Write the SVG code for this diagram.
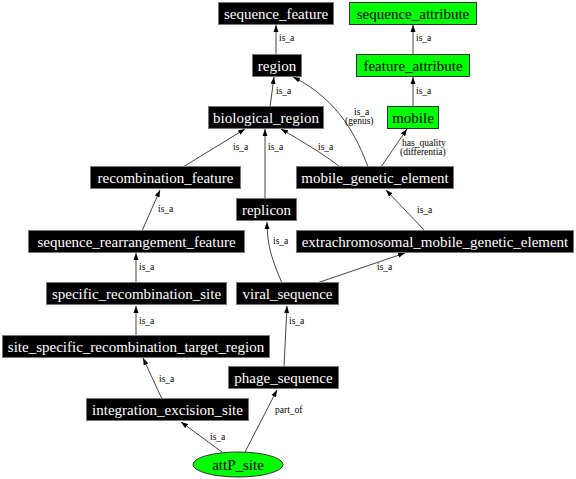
<svg xmlns="http://www.w3.org/2000/svg" width="576" height="479" viewBox="0 0 576 479">
<style>
  .blk rect { fill: #000; stroke: #777; stroke-width: 1; }
  .grn rect, .grn ellipse { fill: #00ff00; stroke: #333; stroke-width: 1; }
  .blk text { fill: #fff; font-family: "Liberation Serif", "Times New Roman", serif; font-size: 15px; text-anchor: middle; }
  .grn text { fill: #000; font-family: "Liberation Serif", "Times New Roman", serif; font-size: 15px; text-anchor: middle; }
  .edges path { fill: none; stroke: #444; stroke-width: 1; marker-end: url(#ah); }
  .edges text { font-family: "Liberation Serif", "Times New Roman", serif; font-size: 9.5px; fill: #000; }
</style>
<defs>
  <marker id="ah" markerUnits="userSpaceOnUse" markerWidth="8" markerHeight="6" refX="7" refY="3" orient="auto">
    <path d="M0,0.5 L7,3 L0,5.5 z" fill="#000"/>
  </marker>
</defs>
<rect width="576" height="479" fill="#fff"/>

<g class="edges" id="edges">
  <path d="M276,54 L276,25"/>
  <text x="279" y="41">is_a</text>
  <path d="M270,107 L274,77"/>
  <text x="276" y="94">is_a</text>
  <path d="M183,167 L245,129"/>
  <text x="233" y="150">is_a</text>
  <path d="M265,199 L265,129"/>
  <text x="268" y="150">is_a</text>
  <path d="M340,167 C325,155 300,140 281,129"/>
  <text x="318" y="150">is_a</text>
  <path d="M368,167 C358,140 340,100 293,77"/>
  <text x="354" y="115">is_a</text>
  <text x="345" y="124">(genus)</text>
  <path d="M381,167 L407,129"/>
  <text x="402" y="146">has_quality</text>
  <text x="400" y="155">(differentia)</text>
  <path d="M413,54 L413,25"/>
  <text x="416" y="41">is_a</text>
  <path d="M413,107 L413,77"/>
  <text x="416" y="94">is_a</text>
  <path d="M142,231 L160,190"/>
  <text x="158" y="212">is_a</text>
  <path d="M425,231 L386,190"/>
  <text x="417" y="213">is_a</text>
  <path d="M136,283 L136,253"/>
  <text x="139" y="270">is_a</text>
  <path d="M282,283 C272,260 267,245 267,222"/>
  <text x="273" y="244">is_a</text>
  <path d="M317,283 L405,253"/>
  <text x="377" y="270">is_a</text>
  <path d="M136,336 L136,306"/>
  <text x="139" y="324">is_a</text>
  <path d="M284,367 L287,306"/>
  <text x="289" y="324">is_a</text>
  <path d="M162,399 L143,358"/>
  <text x="159" y="382">is_a</text>
  <path d="M222,452 L181,422"/>
  <text x="210" y="440">is_a</text>
  <path d="M245,452 L277,390"/>
  <text x="275" y="413">part_of</text>
</g>

<g id="sequence_feature" class="blk"><rect x="218.5" y="2.5" width="115" height="22"/><text x="276" y="18.5">sequence_feature</text></g>
<g id="region" class="blk"><rect x="252.5" y="54.5" width="49" height="22"/><text x="277" y="70.5">region</text></g>
<g id="biological_region" class="blk"><rect x="208.5" y="106.5" width="115" height="22"/><text x="266" y="122.5">biological_region</text></g>
<g id="sequence_attribute" class="grn"><rect x="349.5" y="2.5" width="127" height="22"/><text x="413" y="18.5">sequence_attribute</text></g>
<g id="feature_attribute" class="grn"><rect x="356.5" y="54.5" width="113" height="22"/><text x="413" y="70.5">feature_attribute</text></g>
<g id="mobile" class="grn"><rect x="387.5" y="106.5" width="51" height="22"/><text x="413" y="122.5">mobile</text></g>
<g id="recombination_feature" class="blk"><rect x="90.5" y="166.5" width="150" height="22"/><text x="165.5" y="182.5">recombination_feature</text></g>
<g id="mobile_genetic_element" class="blk"><rect x="296.5" y="166.5" width="157" height="22"/><text x="375" y="182.5">mobile_genetic_element</text></g>
<g id="replicon" class="blk"><rect x="236.5" y="198.5" width="60" height="22"/><text x="266.5" y="214.5">replicon</text></g>
<g id="sequence_rearrangement_feature" class="blk"><rect x="28.5" y="230.5" width="216" height="22"/><text x="136.5" y="246.5">sequence_rearrangement_feature</text></g>
<g id="extrachromosomal_mobile_genetic_element" class="blk"><rect x="296.5" y="230.5" width="277" height="22"/><text x="435" y="246.5">extrachromosomal_mobile_genetic_element</text></g>
<g id="specific_recombination_site" class="blk"><rect x="46.5" y="282.5" width="180" height="22"/><text x="136.5" y="298.5">specific_recombination_site</text></g>
<g id="viral_sequence" class="blk"><rect x="236.5" y="282.5" width="102" height="22"/><text x="287.5" y="298.5">viral_sequence</text></g>
<g id="site_specific_recombination_target_region" class="blk"><rect x="2.5" y="335.5" width="267" height="22"/><text x="136" y="351.5">site_specific_recombination_target_region</text></g>
<g id="phage_sequence" class="blk"><rect x="228.5" y="366.5" width="110" height="22"/><text x="283.5" y="382.5">phage_sequence</text></g>
<g id="integration_excision_site" class="blk"><rect x="86.5" y="398.5" width="162" height="22"/><text x="167.5" y="414.5">integration_excision_site</text></g>
<g id="attP_site" class="grn"><ellipse cx="238" cy="464.5" rx="45" ry="12.5"/><text x="238" y="469.5">attP_site</text></g>
</svg>
